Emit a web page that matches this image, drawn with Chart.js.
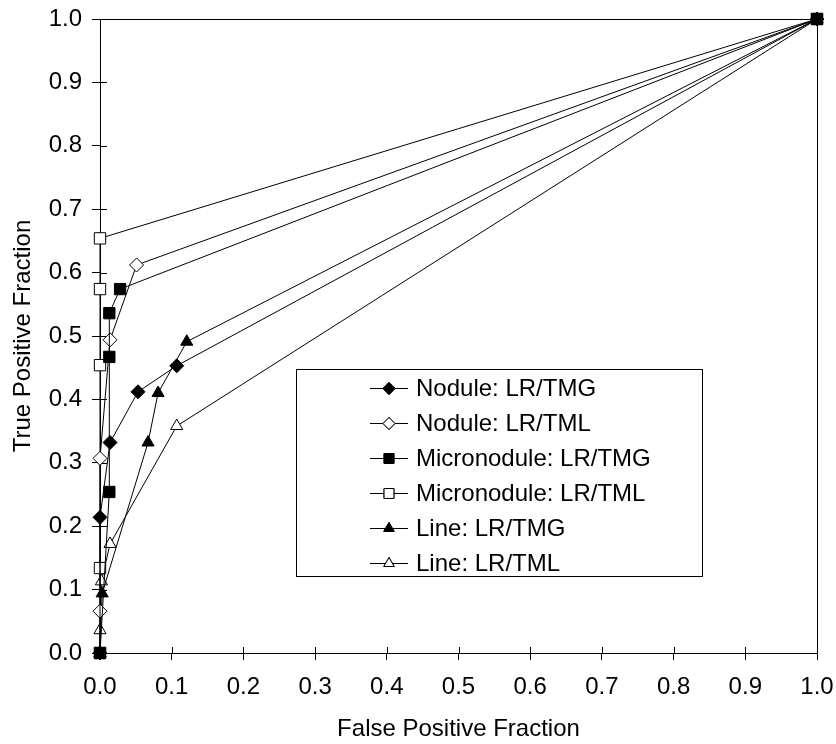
<!DOCTYPE html>
<html>
<head>
<meta charset="utf-8">
<script src="https://cdn.jsdelivr.net/npm/chart.js@4/dist/chart.umd.min.js"></script>
<style>
  body { margin: 0; background: #fff; }
  canvas { display: block; }
</style>
</head>
<body>
<canvas id="rocChart" width="836" height="744"></canvas>
<script>
// ROC points (x = false positive fraction, y = true positive fraction)
const seriesNames = [
  'Nodule: LR/TMG',
  'Nodule: LR/TML',
  'Micronodule: LR/TMG',
  'Micronodule: LR/TML',
  'Line: LR/TMG',
  'Line: LR/TML'
];

const noduleTmgX = [0, 0, 0.014, 0.053, 0.107, 1];
const noduleTmgY = [0, 0.214, 0.332, 0.412, 0.453, 1];

const noduleTmlX = [0, 0, 0, 0.014, 0.051, 1];
const noduleTmlY = [0, 0.066, 0.307, 0.494, 0.612, 1];

const microTmgX = [0, 0.013, 0.013, 0.013, 0.028, 1];
const microTmgY = [0, 0.254, 0.467, 0.536, 0.574, 1];

const microTmlX = [0, 0, 0, 0, 0, 1];
const microTmlY = [0, 0.134, 0.454, 0.574, 0.654, 1];

const lineTmgX = [0, 0.003, 0.067, 0.081, 0.121, 1];
const lineTmgY = [0, 0.094, 0.332, 0.41, 0.491, 1];

const lineTmlX = [0, 0, 0.002, 0.014, 0.107, 1];
const lineTmlY = [0, 0.036, 0.113, 0.172, 0.358, 1];

const axisTicks = [0, 0.1, 0.2, 0.3, 0.4, 0.5, 0.6, 0.7, 0.8, 0.9, 1.0];

const FONT = '"Liberation Sans", Arial, sans-serif';
const FSIZE = 24;

function pts(xs, ys) {
  return xs.map((x, i) => ({ x: x, y: ys[i] }));
}

const styles = [
  { shape: 'rectRot', filled: true, r: 7 },
  { shape: 'rectRot', filled: false, r: 7 },
  { shape: 'rect', filled: true, r: 8 },
  { shape: 'rect', filled: false, r: 8 },
  { shape: 'triangle', filled: true, r: 7 },
  { shape: 'triangle', filled: false, r: 7 }
];

const allData = [
  pts(noduleTmgX, noduleTmgY),
  pts(noduleTmlX, noduleTmlY),
  pts(microTmgX, microTmgY),
  pts(microTmlX, microTmlY),
  pts(lineTmgX, lineTmgY),
  pts(lineTmlX, lineTmlY)
];

const datasets = seriesNames.map((name, i) => ({
  label: name,
  data: allData[i],
  showLine: true,
  borderColor: '#000',
  borderWidth: 1,
  pointStyle: styles[i].shape,
  pointRadius: styles[i].r,
  pointHoverRadius: styles[i].r,
  pointBackgroundColor: styles[i].filled ? '#000' : '#fff',
  pointBorderColor: '#000',
  pointBorderWidth: 1,
  order: i === 2 ? 0 : 1,   // filled squares sit on top at (0,0) and (1,1)
  clip: false
}));

// frame + tick marks that cross into the plot area
const framePlugin = {
  id: 'frame',
  beforeDatasetsDraw(chart) {
    const { ctx, chartArea: a, scales } = chart;
    ctx.save();
    ctx.strokeStyle = '#000';
    ctx.lineWidth = 1;
    ctx.strokeRect(a.left + 0.5, a.top + 0.5, a.right - a.left, a.bottom - a.top);
    ctx.beginPath();
    scales.x.ticks.forEach(t => {
      const px = Math.round(scales.x.getPixelForValue(t.value)) + 0.5;
      ctx.moveTo(px, a.bottom);
      ctx.lineTo(px, a.bottom - 6);
    });
    scales.y.ticks.forEach(t => {
      const py = Math.round(scales.y.getPixelForValue(t.value)) + 0.5;
      ctx.moveTo(a.left, py);
      ctx.lineTo(a.left + 7, py);
    });
    ctx.stroke();
    ctx.restore();
  }
};

// boxed legend inside the plot
const legendPlugin = {
  id: 'boxLegend',
  afterDraw(chart) {
    const { ctx } = chart;
    const box = { left: 296, top: 369, width: 406, height: 207 };
    ctx.save();
    ctx.fillStyle = '#fff';
    ctx.fillRect(box.left, box.top, box.width, box.height);
    ctx.strokeStyle = '#000';
    ctx.lineWidth = 1;
    ctx.strokeRect(box.left + 0.5, box.top + 0.5, box.width, box.height);
    ctx.font = FSIZE + 'px ' + FONT;
    ctx.textBaseline = 'middle';
    seriesNames.forEach((name, i) => {
      const y = 388 + i * 35;
      ctx.beginPath();
      ctx.moveTo(370, y + 0.5);
      ctx.lineTo(408, y + 0.5);
      ctx.stroke();
      ctx.fillStyle = styles[i].filled ? '#000' : '#fff';
      Chart.helpers.drawPoint(ctx, {
        pointStyle: styles[i].shape,
        radius: styles[i].r - 1,
        borderWidth: 1,
        rotation: 0
      }, 389, y + 0.5);
      ctx.fill();
      ctx.stroke();
      ctx.fillStyle = '#000';
      ctx.fillText(name, 416, y + 1);
    });
    ctx.restore();
  }
};

const tickFmt = v => Number(v).toFixed(1);

new Chart(document.getElementById('rocChart'), {
  type: 'scatter',
  data: { datasets: datasets },
  options: {
    responsive: false,
    animation: false,
    layout: { padding: { left: 0, top: 19, right: 19, bottom: 0 } },
    plugins: {
      legend: { display: false },
      tooltip: { enabled: false }
    },
    scales: {
      x: {
        type: 'linear',
        min: 0,
        max: 1,
        afterBuildTicks: s => { s.ticks = axisTicks.map(v => ({ value: v })); },
        afterFit: s => { s.height = 91; s.paddingLeft = 0; s.paddingRight = 0; },
        grid: { drawOnChartArea: false, color: '#000', tickLength: 7, drawTicks: true },
        border: { display: false },
        ticks: {
          color: '#000',
          font: { family: FONT, size: FSIZE },
          padding: 13,
          maxRotation: 0,
          callback: tickFmt
        },
        title: {
          display: true,
          text: 'False Positive Fraction',
          color: '#000',
          font: { family: FONT, size: FSIZE },
          padding: { top: 0, bottom: 0 }
        }
      },
      y: {
        type: 'linear',
        min: 0,
        max: 1,
        afterBuildTicks: s => { s.ticks = axisTicks.map(v => ({ value: v })); },
        afterFit: s => { s.width = 100; s.paddingTop = 0; s.paddingBottom = 0; },
        grid: { drawOnChartArea: false, color: '#000', tickLength: 8, drawTicks: true },
        border: { display: false },
        ticks: {
          color: '#000',
          font: { family: FONT, size: FSIZE },
          padding: 10,
          callback: tickFmt
        },
        title: {
          display: true,
          text: 'True Positive Fraction',
          color: '#000',
          font: { family: FONT, size: FSIZE },
          padding: { top: 9, bottom: 0 }
        }
      }
    }
  },
  plugins: [framePlugin, legendPlugin]
});
</script>
</body>
</html>
